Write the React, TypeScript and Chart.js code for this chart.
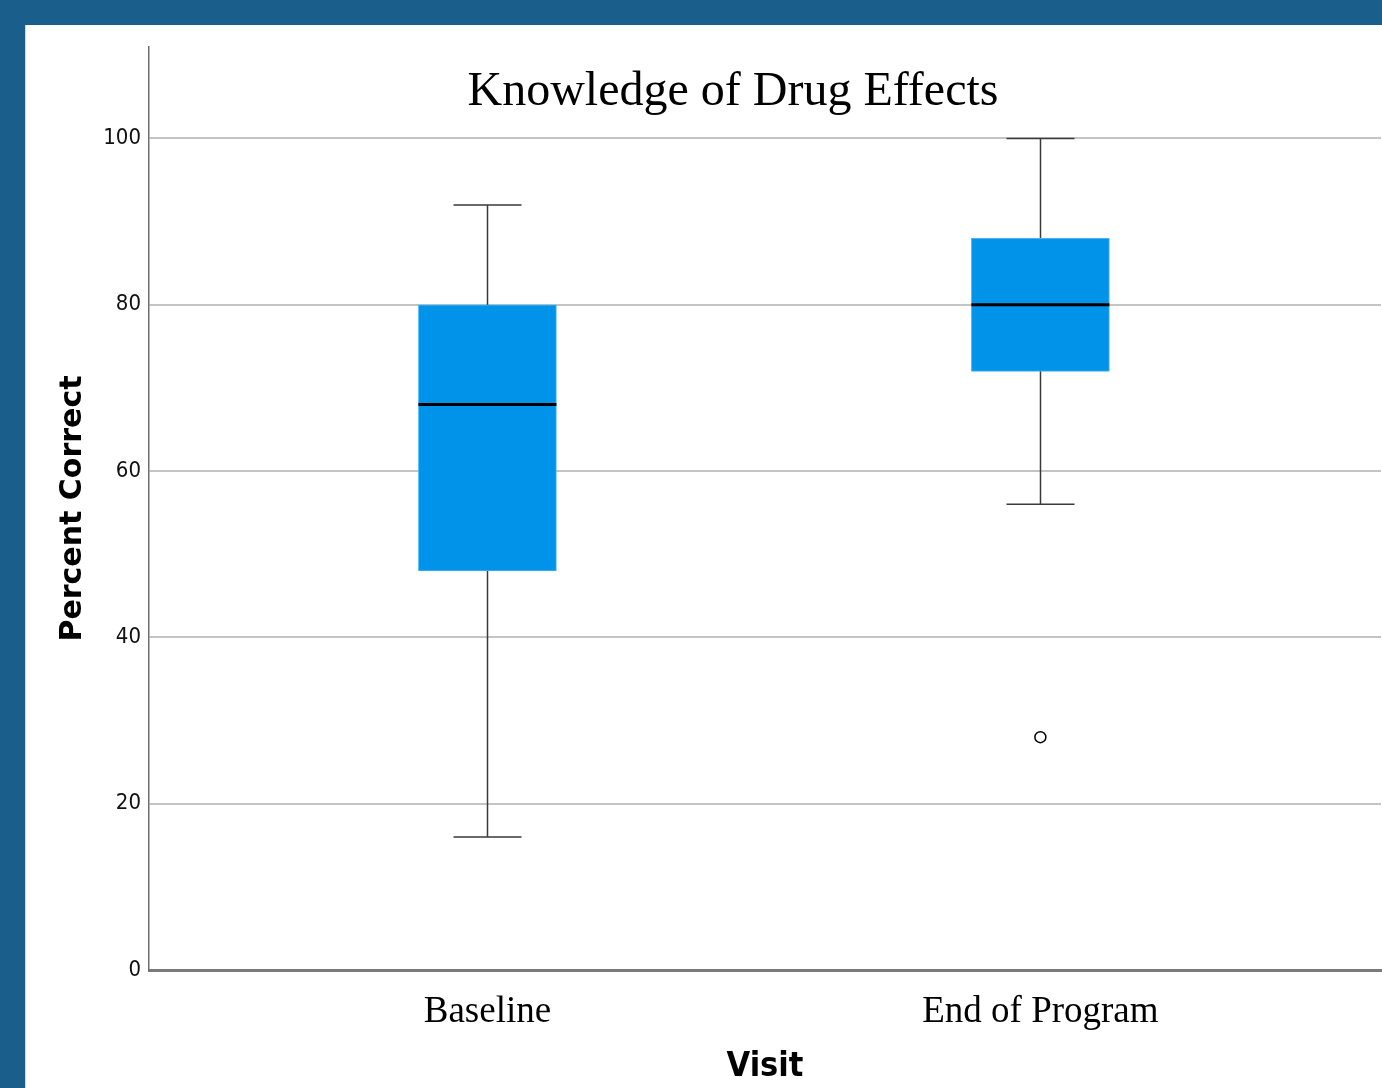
import React, { useEffect, useRef } from 'react';
import { Chart, registerables } from 'chart.js';

Chart.register(...registerables);

const categories = ['Baseline', 'End of Program'];
const positions = [1, 2];
const whiskerLow = [16, 56];
const q1 = [48, 72];
const median = [68, 80];
const q3 = [80, 88];
const whiskerHigh = [92, 100];
const outlierPositions = [2];
const outlierValues = [28];
const yTicks = [0, 20, 40, 60, 80, 100];

const chartTitle = 'Knowledge of Drug Effects';
const yTitle = 'Percent Correct';
const xTitle = 'Visit';

const BOX_PX = 138;
const CAP_HALF = 34;

const boxPlugin = {
  id: 'boxWhiskers',
  beforeDatasetsDraw(chart: any) {
    const { ctx, scales } = chart;
    const xs = scales.x;
    const ys = scales.y;
    ctx.save();
    ctx.strokeStyle = '#3a3a3a';
    ctx.lineWidth = 1.5;
    positions.forEach((p, i) => {
      const cx = Math.round(xs.getPixelForValue(p)) + 0.5;
      const yLo = ys.getPixelForValue(whiskerLow[i]);
      const yHi = ys.getPixelForValue(whiskerHigh[i]);
      ctx.beginPath();
      ctx.moveTo(cx, yLo);
      ctx.lineTo(cx, yHi);
      ctx.moveTo(cx - CAP_HALF, yLo);
      ctx.lineTo(cx + CAP_HALF, yLo);
      ctx.moveTo(cx - CAP_HALF, yHi);
      ctx.lineTo(cx + CAP_HALF, yHi);
      ctx.stroke();
    });
    ctx.restore();
  },
  afterDatasetsDraw(chart: any) {
    const { ctx, scales } = chart;
    const xs = scales.x;
    const ys = scales.y;
    ctx.save();
    ctx.strokeStyle = '#000000';
    ctx.lineWidth = 3;
    positions.forEach((p, i) => {
      const cx = xs.getPixelForValue(p);
      const ym = ys.getPixelForValue(median[i]);
      ctx.beginPath();
      ctx.moveTo(cx - BOX_PX / 2, ym);
      ctx.lineTo(cx + BOX_PX / 2, ym);
      ctx.stroke();
    });
    ctx.restore();
  },
  afterDraw(chart: any) {
    const { ctx } = chart;
    ctx.save();
    ctx.fillStyle = '#000';
    ctx.font = '48px "Liberation Serif", "Times New Roman", serif';
    ctx.textAlign = 'center';
    ctx.textBaseline = 'middle';
    ctx.fillText(chartTitle, 707, 67);
    ctx.restore();
  },
};

export default function App() {
  const ref = useRef<HTMLCanvasElement | null>(null);

  useEffect(() => {
    if (!ref.current) return;
    const chart = new Chart(ref.current, {
      type: 'bar',
      data: {
        datasets: [
          {
            type: 'bar',
            data: positions.map((p, i) => ({ x: p, y: [q1[i], q3[i]] })) as any,
            backgroundColor: '#0093ea',
            borderColor: '#4cb2f2',
            borderWidth: 1,
            borderSkipped: false,
            barThickness: BOX_PX,
          } as any,
          {
            type: 'scatter',
            data: outlierPositions.map((p, i) => ({ x: p, y: outlierValues[i] })),
            pointStyle: 'circle',
            pointRadius: 5.5,
            backgroundColor: '#ffffff',
            borderColor: '#000000',
            borderWidth: 1.5,
          } as any,
        ],
      },
      options: {
        responsive: false,
        animation: false,
        layout: { padding: { top: 22, left: 0, right: 0, bottom: 0 } },
        plugins: {
          legend: { display: false },
          tooltip: { enabled: false },
          title: { display: false },
        },
        scales: {
          x: {
            type: 'linear',
            offset: false,
            min: 0.388,
            max: 2.616,
            afterBuildTicks: (axis: any) => {
              axis.ticks = positions.map((v) => ({ value: v }));
            },
            afterFit: (scale: any) => {
              scale.height = 118;
            },
            grid: { display: false, drawTicks: false, offset: false },
            border: { display: true, color: '#7a7a7a', width: 3 },
            ticks: {
              padding: 20,
              color: '#000',
              font: { family: '"Liberation Serif", "Times New Roman", serif', size: 37 },
              callback: (v: any) => {
                const idx = positions.indexOf(Number(v));
                return idx >= 0 ? categories[idx] : '';
              },
              maxRotation: 0,
              autoSkip: false,
            },
            title: {
              display: true,
              text: xTitle,
              color: '#000',
              padding: 0,
              font: { family: '"Liberation Sans Narrow", "DejaVu Sans Condensed", sans-serif', size: 34, weight: 'bold' },
            },
          },
          y: {
            type: 'linear',
            min: 0,
            max: 111,
            afterBuildTicks: (axis: any) => {
              axis.ticks = yTicks.map((v) => ({ value: v }));
            },
            afterFit: (scale: any) => {
              scale.width = 123;
            },
            grid: {
              drawTicks: false,
              color: (c: any) => (c.tick && c.tick.value === 0 ? 'rgba(0,0,0,0)' : '#c4c4c4'),
              lineWidth: 2,
            },
            border: { display: true, color: '#6e6e6e', width: 1.5 },
            ticks: {
              padding: 8,
              color: '#111',
              font: { family: '"Liberation Sans Narrow", "DejaVu Sans Condensed", sans-serif', size: 22 },
            },
            title: {
              display: true,
              text: yTitle,
              color: '#000',
              padding: { top: 29, bottom: 0 },
              font: { family: '"DejaVu Sans", Verdana, sans-serif', size: 30, weight: 'bold' },
            },
          },
        },
      } as any,
      plugins: [boxPlugin],
    });
    return () => chart.destroy();
  }, []);

  return (
    <div
      style={{
        position: 'absolute',
        left: 0,
        top: 0,
        width: 1382,
        height: 1088,
        background: '#1a5f8c',
        overflow: 'hidden',
      }}
    >
      <div
        style={{
          position: 'absolute',
          left: 25,
          top: 25,
          width: 1357,
          height: 1063,
          background: '#ffffff',
          borderLeft: '1px solid #c9d8f2',
          boxSizing: 'border-box',
          overflow: 'hidden',
        }}
      >
        <canvas ref={ref} width={1362} height={1063} style={{ display: 'block' }} />
      </div>
    </div>
  );
}
